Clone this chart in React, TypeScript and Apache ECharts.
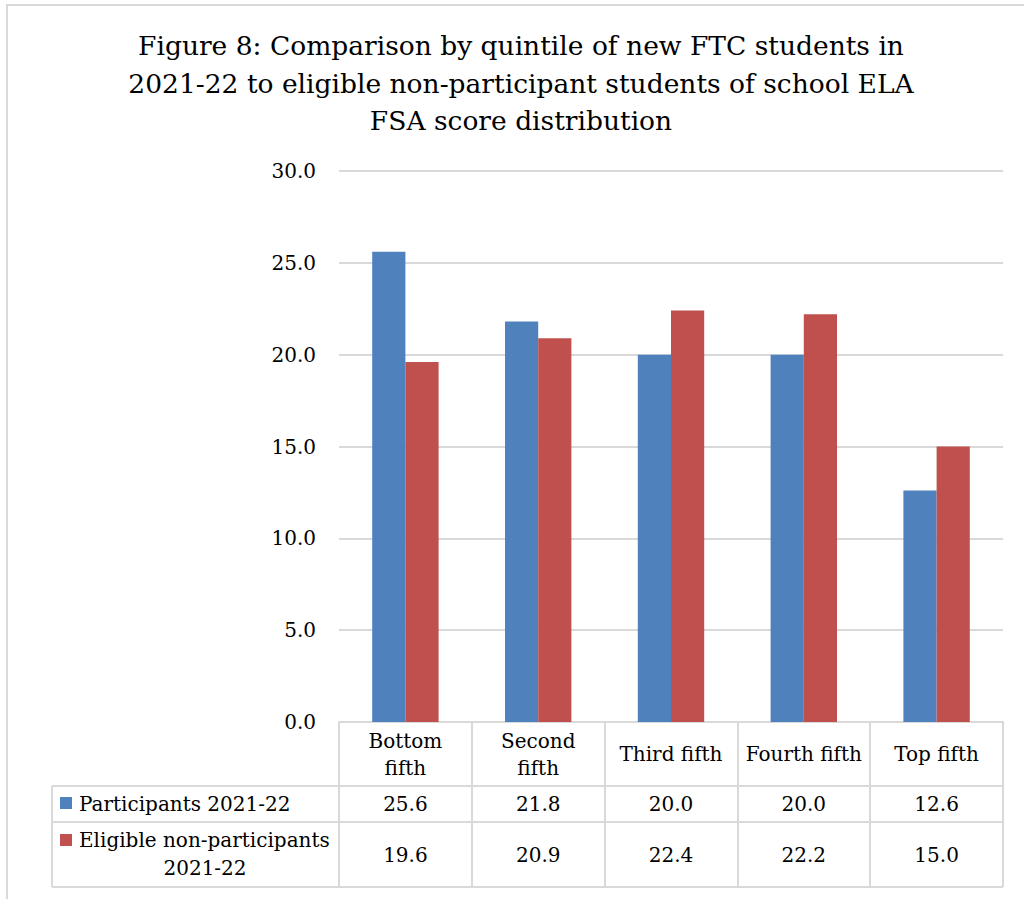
import React, { useEffect, useRef } from "react";
import * as echarts from "echarts";

const titleText = "Figure 8: Comparison by quintile of new FTC students in\n2021-22 to eligible non-participant students of school ELA\nFSA score distribution";
const categories = ["Bottom\nfifth", "Second\nfifth", "Third fifth", "Fourth fifth", "Top fifth"];
const seriesNames = ["Participants 2021-22", "Eligible non-participants 2021-22"];
const participants = [25.6, 21.8, 20.0, 20.0, 12.6];
const nonParticipants = [19.6, 20.9, 22.4, 22.2, 15.0];
const yMin = 0;
const yMax = 30;
const yInterval = 5;
const colors = ["#4F81BD", "#C0504D"];

const FONT = "DejaVu Serif";
const FS = 20;
const W = 1024;
const H = 899;
const GRID_LEFT = 339;
const GRID_RIGHT = 1003;
const GRID_TOP = 171;
const GRID_BOTTOM = 722;
const ROW1 = 786;
const ROW2 = 822;
const ROW3 = 887;
const TABLE_LEFT = 52;
const LINE = "#D9D9D9";

export default function App() {
  const ref = useRef<HTMLDivElement>(null);
  useEffect(() => {
    if (!ref.current) return;
    const chart = echarts.init(ref.current, undefined, { renderer: "svg" });
    const fmt = (v: number) => v.toFixed(1);
    const hLine = (y: number) => ({
      type: "line",
      shape: { x1: TABLE_LEFT, y1: y, x2: GRID_RIGHT, y2: y },
      style: { stroke: LINE, lineWidth: 2 },
      silent: true,
    });
    chart.setOption({
      animation: false,
      backgroundColor: "#ffffff",
      title: {
        text: titleText,
        left: 516,
        top: 22,
        textAlign: "center",
        textStyle: { fontFamily: FONT, fontSize: 26.5, fontWeight: "normal", color: "#000", lineHeight: 37.5 },
      },
      grid: { left: GRID_LEFT, right: W - GRID_RIGHT, top: GRID_TOP, bottom: H - GRID_BOTTOM, containLabel: false },
      xAxis: [
        {
          type: "category",
          data: categories,
          axisLine: { show: true, lineStyle: { color: LINE, width: 2 } },
          axisTick: { show: true, length: ROW3 - GRID_BOTTOM, interval: 0, lineStyle: { color: LINE, width: 2 } },
          axisLabel: { interval: 0, margin: (ROW1 - GRID_BOTTOM) / 2, verticalAlign: "middle", fontFamily: FONT, fontSize: FS, color: "#000", lineHeight: 27 },
        },
        {
          type: "category",
          data: participants.map(fmt),
          position: "bottom",
          axisLine: { show: false },
          axisTick: { show: false },
          axisLabel: { interval: 0, margin: (ROW1 + ROW2) / 2 - GRID_BOTTOM, verticalAlign: "middle", fontFamily: FONT, fontSize: FS, color: "#000" },
        },
        {
          type: "category",
          data: nonParticipants.map(fmt),
          position: "bottom",
          axisLine: { show: false },
          axisTick: { show: false },
          axisLabel: { interval: 0, margin: (ROW2 + ROW3) / 2 - GRID_BOTTOM, verticalAlign: "middle", fontFamily: FONT, fontSize: FS, color: "#000" },
        },
      ],
      yAxis: {
        type: "value",
        min: yMin,
        max: yMax,
        interval: yInterval,
        axisLine: { show: false },
        axisTick: { show: false },
        splitLine: { lineStyle: { color: LINE, width: 2 } },
        axisLabel: { formatter: (v: number) => v.toFixed(1), margin: 23, fontFamily: FONT, fontSize: FS, color: "#000" },
      },
      series: [
        { name: seriesNames[0], type: "bar", data: participants, itemStyle: { color: colors[0] }, barGap: "0%", barCategoryGap: "50%" },
        { name: seriesNames[1], type: "bar", data: nonParticipants, itemStyle: { color: colors[1] }, barGap: "0%", barCategoryGap: "50%" },
      ],
      graphic: [
        { type: "rect", shape: { x: 7, y: 5, width: 1100, height: 1000 }, style: { fill: "none", stroke: LINE, lineWidth: 2 }, silent: true, z: -1 },
        hLine(ROW1),
        hLine(ROW2),
        hLine(ROW3),
        { type: "line", shape: { x1: TABLE_LEFT, y1: ROW1, x2: TABLE_LEFT, y2: ROW3 }, style: { stroke: LINE, lineWidth: 2 }, silent: true },
        { type: "rect", shape: { x: 60, y: 797, width: 12, height: 12 }, style: { fill: colors[0] } },
        { type: "text", x: 79, y: (ROW1 + ROW2) / 2, style: { text: seriesNames[0], fontFamily: FONT, fontSize: FS, fill: "#000", textAlign: "left", textVerticalAlign: "middle" } },
        { type: "rect", shape: { x: 60, y: 834, width: 12, height: 12 }, style: { fill: colors[1] } },
        { type: "text", x: 79, y: 840, style: { text: "Eligible non-participants", fontFamily: FONT, fontSize: FS, fill: "#000", textAlign: "left", textVerticalAlign: "middle" } },
        { type: "text", x: 205, y: 868, style: { text: "2021-22", fontFamily: FONT, fontSize: FS, fill: "#000", textAlign: "center", textVerticalAlign: "middle" } },
      ],
    });
    return () => chart.dispose();
  }, []);
  return <div ref={ref} style={{ position: "absolute", left: 0, top: 0, width: W, height: H }} />;
}
